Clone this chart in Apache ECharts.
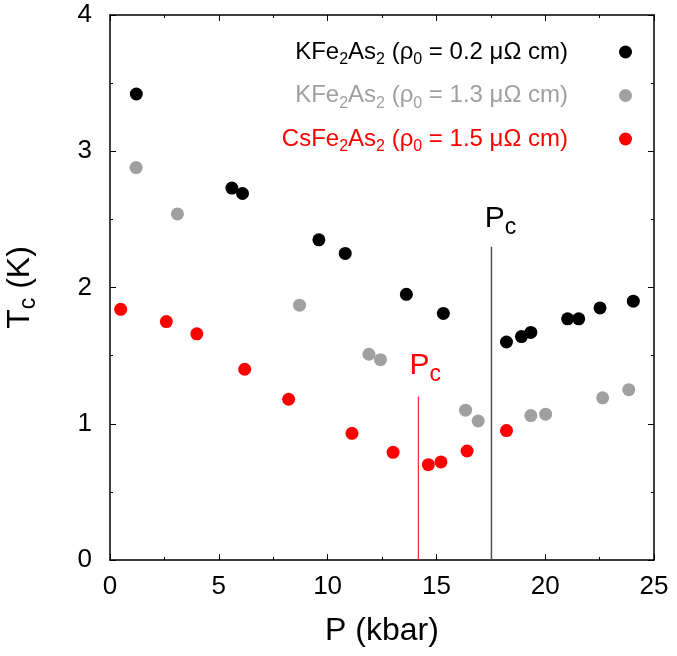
<!DOCTYPE html>
<html><head><meta charset="utf-8">
<script src="https://cdn.jsdelivr.net/npm/echarts@6/dist/echarts.min.js"></script>
<style>html,body{margin:0;padding:0;background:#fff}#c{width:677px;height:656px}</style>
</head><body><div id="c"></div>
<script>
const kLowP  = [1.21, 5.60, 6.09, 9.60, 10.81, 13.62, 15.32, 18.22, 18.91, 19.34, 21.03, 21.54, 22.52, 24.05];
const kLowTc = [3.42, 2.73, 2.69, 2.35, 2.25, 1.95, 1.81, 1.60, 1.64, 1.67, 1.77, 1.77, 1.85, 1.90];
const kHighP  = [1.20, 3.10, 8.71, 11.90, 12.43, 16.34, 16.92, 19.34, 20.02, 22.64, 23.84];
const kHighTc = [2.88, 2.54, 1.87, 1.51, 1.47, 1.10, 1.02, 1.06, 1.07, 1.19, 1.25];
const csP  = [0.49, 2.59, 3.99, 6.19, 8.21, 11.12, 13.01, 14.63, 15.21, 16.41, 18.22];
const csTc = [1.84, 1.75, 1.66, 1.40, 1.18, 0.93, 0.79, 0.70, 0.72, 0.80, 0.95];
const pcK  = [17.53, 2.30];   // P, Tc top of line
const pcCs = [14.17, 1.20];
const xTicks = [0, 5, 10, 15, 20, 25];
const yTicks = [0, 1, 2, 3, 4];
const names = ['KFe2As2 (0.2)', 'KFe2As2 (1.3)', 'CsFe2As2 (1.5)'];
const legendTexts = [
  'KFe{s|2}As{s|2} (ρ{s|0} = 0.2 μΩ cm){sp|}',
  'KFe{s|2}As{s|2} (ρ{s|0} = 1.3 μΩ cm){sp|}',
  'CsFe{s|2}As{s|2} (ρ{s|0} = 1.5 μΩ cm){sp|}'
];
const colors = ['#000000', '#a0a0a0', '#ff0000'];

const FONT = '"Liberation Sans", Arial, Helvetica, sans-serif';
const zip = (a, b) => a.map((v, i) => [v, b[i]]);

const chart = echarts.init(document.getElementById('c'), null, {renderer: 'canvas'});
const axisCommon = {
  type: 'value',
  axisLine: {show: true, onZero: false, lineStyle: {color: '#000', width: 1.5}},
  axisTick: {show: true, inside: true, length: 6, lineStyle: {color: '#000', width: 1}},
  minorTick: {show: true, splitNumber: 2, length: 3, lineStyle: {color: '#000', width: 1}},
  splitLine: {show: false},
  minorSplitLine: {show: false}
};
const xCommon = Object.assign({}, axisCommon, {min: xTicks[0], max: xTicks[xTicks.length-1], interval: xTicks[1]-xTicks[0]});
const yCommon = Object.assign({}, axisCommon, {min: yTicks[0], max: yTicks[yTicks.length-1], interval: yTicks[1]-yTicks[0]});

function sc(i) {
  return {
    name: names[i], type: 'scatter', symbol: 'circle', symbolSize: 13,
    itemStyle: {color: colors[i], opacity: 1},
    data: zip([kLowP, kHighP, csP][i], [kLowTc, kHighTc, csTc][i]),
    z: 5
  };
}
function pcLine(pc, color, textColor, width, offX, offY) {
  return {
    type: 'line', data: [[pc[0], 0], [pc[0], pc[1]]], symbol: 'none', silent: true,
    lineStyle: {color: color, width: width}, z: 3,
    endLabel: {show: true, formatter: 'P{c|c}', color: textColor, fontFamily: FONT, fontSize: 30,
      align: 'center', verticalAlign: 'bottom', offset: [offX, offY],
      rich: {c: {fontSize: 23, color: textColor, fontFamily: FONT, padding: [18, 0, 0, 0]}}}
  };
}

chart.setOption({
  animation: false,
  backgroundColor: '#fff',
  textStyle: {fontFamily: FONT},
  grid: {left: 110, right: 23, top: 15, bottom: 96, containLabel: false, outerBoundsMode: 'none'},
  xAxis: [
    Object.assign({}, xCommon, {position: 'bottom',
      axisLabel: {show: true, color: '#000', fontSize: 26, fontFamily: FONT, margin: 14},
      name: 'P (kbar)', nameLocation: 'middle', nameGap: 55,
      nameTextStyle: {color: '#000', fontSize: 32, fontFamily: FONT}}),
    Object.assign({}, xCommon, {position: 'top', axisLabel: {show: false}})
  ],
  yAxis: [
    Object.assign({}, yCommon, {position: 'left',
      axisLabel: {show: true, color: '#000', fontSize: 26, fontFamily: FONT, margin: 18},
      name: 'T{c|c} (K)', nameLocation: 'middle', nameGap: 70,
      nameTextStyle: {color: '#000', fontSize: 32, fontFamily: FONT,
        rich: {c: {fontSize: 23, color: '#000', fontFamily: FONT, padding: [16, 0, 0, 0]}}}}),
    Object.assign({}, yCommon, {position: 'right', axisLabel: {show: false}})
  ],
  legend: {
    orient: 'vertical', right: 40, top: 35, align: 'right', itemGap: 15.5,
    icon: 'circle', itemWidth: 13, itemHeight: 13,
    data: names.map((n, i) => ({name: n, textStyle: {color: colors[i]}})),
    formatter: function (name) { return legendTexts[names.indexOf(name)]; },
    textStyle: {fontSize: 24, fontFamily: FONT,
      rich: {s: {fontSize: 16, fontFamily: FONT, padding: [16, 0, 0, 0]}, sp: {width: 46}}}
  },
  series: [sc(0), sc(1), sc(2), pcLine(pcK, '#555555', '#000000', 1.5, 1, -7), pcLine(pcCs, '#ff0000', '#ff0000', 1, -1, -10)]
});
</script></body></html>
